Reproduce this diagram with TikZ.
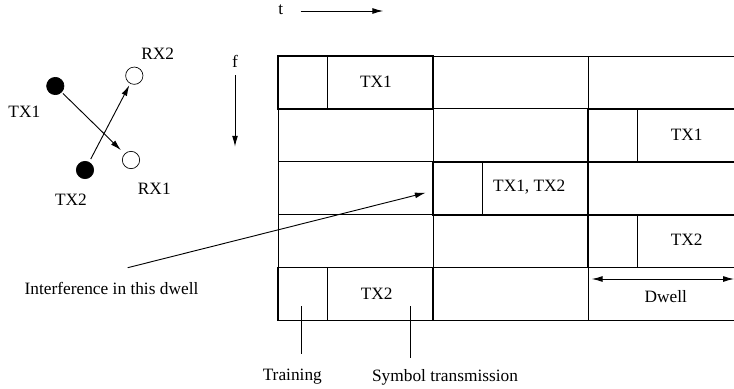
\documentclass[tikz,border=0pt]{standalone}
\usepackage{fontspec}
\setmainfont{Liberation Serif}
\usepackage{tikz}
\usetikzlibrary{arrows.meta,positioning,calc}

\begin{document}
\begin{tikzpicture}[
    x=0.6pt, y=-0.6pt,
    thin line/.style={line width=0.5pt},
    txbox/.style={line width=1pt},
    arrow/.style={-{Latex[length=6.5pt,width=3.5pt]}, line width=0.55pt},
    tx/.style={circle, draw, fill=black, minimum size=10.4pt, inner sep=0pt},
    rx/.style={circle, draw, fill=white, minimum size=10.4pt, inner sep=0pt},
    lbl/.style={inner sep=0pt, font=\fontsize{10.4}{12}\selectfont}
]
\useasboundingbox (0,0) rectangle (734,389);

% transmitters and receivers
\node[tx] (tx1) at (55.3,86) {};
\node[tx] (tx2) at (85,170) {};
\node[rx] (rx2) at (134.3,75.7) {};
\node[rx] (rx1) at (131,160) {};
\node[lbl] (tx1l) at (24.3,111.7) {TX1};
\node[lbl] (tx2l) at (71,199.3) {TX2};
\node[lbl] (rx2l) at (157.7,53.3) {RX2};
\node[lbl] (rx1l) at (154.3,188.3) {RX1};
\draw[arrow, shorten <=1pt, shorten >=3pt] (tx1) -- (rx1);
\draw[arrow, shorten <=2pt, shorten >=1pt] (tx2) -- (rx2);

% axes
\node[lbl] (t) at (280.7,10) {t};
\coordinate (t0) at (300.7,11);
\coordinate (t1) at (383.3,11);
\draw[arrow] (t0) -- (t1);
\node[lbl] (f) at (235,61.7) {f};
\coordinate (f0) at (235,75);
\coordinate (f1) at (235,146.7);
\draw[arrow] (f0) -- (f1);

% time-frequency grid
\foreach \y in {56,108.9,161.8,214.7,267.6,320.5}
    \draw[thin line] (278,\y) -- (734,\y);
\foreach \x in {278,433,588}
    \draw[thin line] (\x,56) -- (\x,320.5);
% training parts
\draw[thin line] (327.5,56) -- (327.5,108.9);
\draw[thin line] (327.5,267.6) -- (327.5,320.5);
\draw[thin line] (482.5,161.8) -- (482.5,214.7);
\draw[thin line] (637.5,108.9) -- (637.5,161.8);
\draw[thin line] (637.5,214.7) -- (637.5,267.6);
% occupied dwells
\draw[txbox] (278,56) rectangle (433,108.9);
\draw[txbox] (433,161.8) rectangle (588,214.7);
\draw[txbox] (734,108.9) -- (588,108.9) -- (588,161.8) -- (734,161.8);
\draw[txbox] (734,214.7) -- (588,214.7) -- (588,267.6) -- (734,267.6);
\draw[txbox] (278,267.6) rectangle (433,320.5);

\node[lbl] (c11) at (376,81.7) {TX1};
\node[lbl] (c23) at (686.7,135) {TX1};
\node[lbl] (c32) at (529.3,186.7) {TX1, TX2};
\node[lbl] (c43) at (686.7,240) {TX2};
\node[lbl] (c51) at (376.7,293.3) {TX2};

% dwell length
\coordinate (dw0) at (591.7,279);
\coordinate (dw1) at (734,279);
\draw[{Latex[length=6.5pt,width=3.5pt]}-{Latex[length=6.5pt,width=3.5pt]}, line width=0.55pt] (dw0) -- (dw1);
\node[lbl] (dwell) at (665.7,296.7) {Dwell};

% interference pointer
\node[lbl] (intl) at (111.5,288.3) {Interference in this dwell};
\coordinate (int0) at (127.7,267.7);
\coordinate (int1) at (425.7,192.7);
\draw[arrow] (int0) -- (int1);

% training / symbol pointers
\node[lbl] (train) at (292.3,377) {Training};
\node[lbl] (symb) at (445,377) {Symbol transmission};
\coordinate (tr0) at (301,306);
\coordinate (tr1) at (301,354);
\coordinate (sy0) at (410.3,306);
\coordinate (sy1) at (410.3,358);
\draw[thin line] (tr0) -- (tr1);
\draw[thin line] (sy0) -- (sy1);
\end{tikzpicture}
\end{document}
